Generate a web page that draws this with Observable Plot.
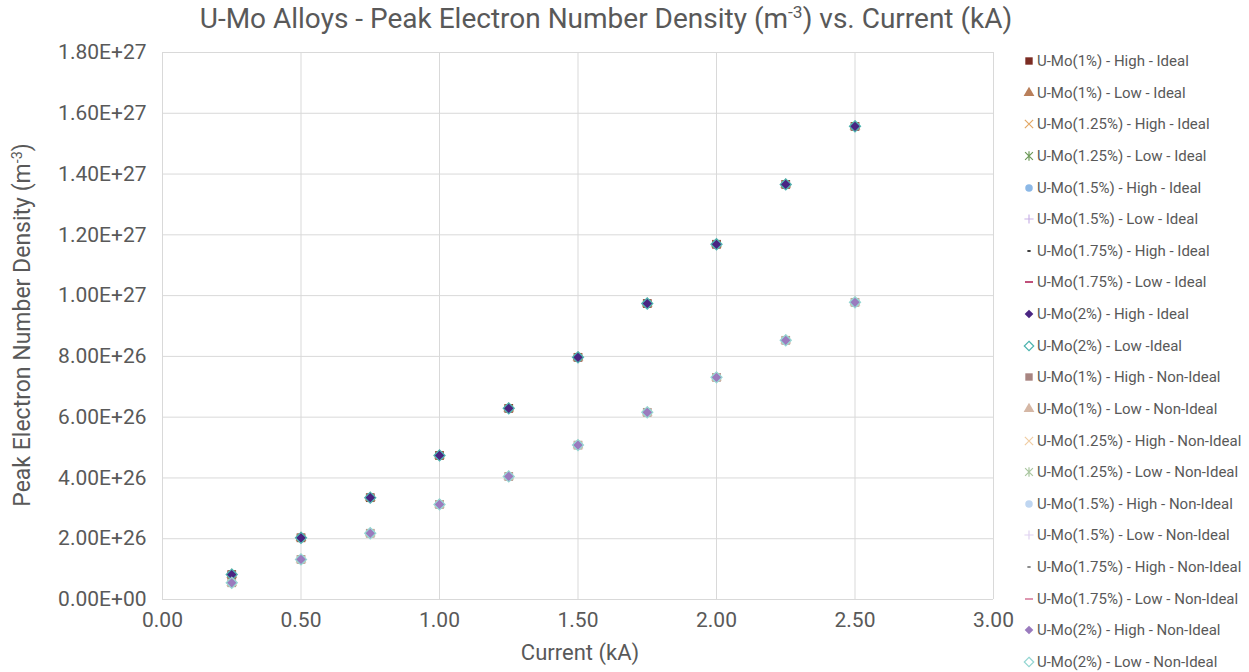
<!DOCTYPE html>
<html><head><meta charset="utf-8">
<script src="https://cdn.jsdelivr.net/npm/d3@7"></script>
<script src="https://cdn.jsdelivr.net/npm/@observablehq/plot@0.6"></script>
<style>
body{margin:0;background:#fff;}
#chart{position:relative;width:1249px;height:672px;font-family:"Roboto",sans-serif;color:#595959;overflow:hidden;}
#chart svg.plot{position:absolute;left:0;top:0;}
#title{position:absolute;top:2px;left:0;width:1212px;text-align:center;font-size:28px;white-space:nowrap;}
#title sup, #ylab sup{font-size:0.62em;vertical-align:0.55em;line-height:0;}
#xlab{position:absolute;top:640px;left:0;width:1160px;text-align:center;font-size:22px;}
#ylab{position:absolute;left:22px;top:325px;transform:translate(-50%,-50%) rotate(-90deg);font-size:23px;white-space:nowrap;}
.leg{position:absolute;left:1022px;height:18px;display:flex;align-items:center;font-size:15px;white-space:nowrap;color:#595959;}
.leg svg{width:14px;height:14px;margin-right:1px;}
</style></head><body><div id="chart"></div><script>
// ---- data ----
const currentKA = [0.25, 0.5, 0.75, 1.0, 1.25, 1.5, 1.75, 2.0, 2.25, 2.5];
const idealDensity = [0.82e26, 2.03e26, 3.35e26, 4.74e26, 6.29e26, 7.97e26, 9.74e26, 1.169e27, 1.366e27, 1.557e27];
const nonIdealDensity = [0.55e26, 1.32e26, 2.18e26, 3.13e26, 4.05e26, 5.08e26, 6.16e26, 7.31e26, 8.53e26, 9.78e26];
const seriesNames = [
  "U-Mo(1%) - High - Ideal", "U-Mo(1%) - Low - Ideal",
  "U-Mo(1.25%) - High - Ideal", "U-Mo(1.25%) - Low - Ideal",
  "U-Mo(1.5%) - High - Ideal", "U-Mo(1.5%) - Low - Ideal",
  "U-Mo(1.75%) - High - Ideal", "U-Mo(1.75%) - Low - Ideal",
  "U-Mo(2%) - High - Ideal", "U-Mo(2%) - Low -Ideal",
  "U-Mo(1%) - High - Non-Ideal", "U-Mo(1%) - Low - Non-Ideal",
  "U-Mo(1.25%) - High - Non-Ideal", "U-Mo(1.25%) - Low - Non-Ideal",
  "U-Mo(1.5%) - High - Non-Ideal", "U-Mo(1.5%) - Low - Non-Ideal",
  "U-Mo(1.75%) - High - Non-Ideal", "U-Mo(1.75%) - Low - Non-Ideal",
  "U-Mo(2%) - High - Non-Ideal", "U-Mo(2%) - Low - Non-Ideal"
];
const xTicks = [0, 0.5, 1.0, 1.5, 2.0, 2.5, 3.0];
const yTicks = [0, 2e26, 4e26, 6e26, 8e26, 1e27, 1.2e27, 1.4e27, 1.6e27, 1.8e27];

// ---- styles ----
const shortDash = {draw(ctx, size){ const r = Math.sqrt(size/Math.PI); ctx.moveTo(-r*0.45,0); ctx.lineTo(r*0.45,0); }};
const longDash = {draw(ctx, size){ const r = Math.sqrt(size/Math.PI); ctx.moveTo(-r*1.0,0); ctx.lineTo(r*1.0,0); }};
const xCross = {draw(ctx, size){ const r = Math.sqrt(size/Math.PI); ctx.moveTo(-r,-r); ctx.lineTo(r,r); ctx.moveTo(-r,r); ctx.lineTo(r,-r); }};
const starCross = {draw(ctx, size){ const r = Math.sqrt(size/Math.PI); ctx.moveTo(-r,-r); ctx.lineTo(r,r); ctx.moveTo(-r,r); ctx.lineTo(r,-r); ctx.moveTo(0,-r*1.2); ctx.lineTo(0,r*1.2); }};
const plusCross = {draw(ctx, size){ const r = Math.sqrt(size/Math.PI); ctx.moveTo(-r,0); ctx.lineTo(r,0); ctx.moveTo(0,-r); ctx.lineTo(0,r); }};
const markerSymbols = [d3.symbolSquare, d3.symbolTriangle, xCross, starCross, d3.symbolCircle, plusCross, shortDash, longDash, d3.symbolDiamond2, d3.symbolDiamond2];
const markerFilled = [true, true, false, false, true, false, false, false, true, false];
const markerR = [4.9, 4.0, 3.6, 3.4, 4.4, 4.0, 4.0, 4.0, 4.6, 5.0];
const legendScale = [0.85, 1.0, 1.15, 1.15, 0.85, 1.15, 0.9, 1.0, 0.85, 0.85];
const idealColors = ["#7B2C23", "#B97F5A", "#E3A865", "#6E9A5A", "#8CB8E6", "#C9B2E6", "#3F3F3F", "#C0507A", "#4A2582", "#4CB3AE"];
const nonIdealColors = ["#A88581", "#D5B7A5", "#F0CDA3", "#AAC7A0", "#BFD6F1", "#E0D2F1", "#8C8C8C", "#DE97B0", "#9A7BBE", "#94D6D2"];

function sci(v){
  if (v === 0) return "0.00E+00";
  const [m, e] = v.toExponential(2).split("e");
  return m + "E" + e[0] + e.slice(1).padStart(2, "0");
}

const rows = seriesNames.flatMap((name, i) => {
  const vals = i < 10 ? idealDensity : nonIdealDensity;
  return currentKA.map((x, j) => ({series: name, idx: i, x, y: vals[j]}));
});

const dotMarks = seriesNames.map((name, i) => {
  const k = i % 10;
  const color = i < 10 ? idealColors[k] : nonIdealColors[k];
  const filled = markerFilled[k];
  return Plot.dot(rows.filter(d => d.idx === i), {
    x: "x", y: "y", symbol: markerSymbols[k], r: markerR[k],
    fill: filled ? color : "none",
    stroke: filled ? "none" : color,
    strokeWidth: (k === 6 || k === 7) ? 2 : 1.2
  });
});

const chart = Plot.plot({
  width: 1249, height: 672,
  marginLeft: 162, marginRight: 256, marginTop: 52, marginBottom: 73,
  style: {fontFamily: '"Roboto",sans-serif', fontSize: "21px", color: "#595959", background: "transparent"},
  x: {domain: [0, 3], ticks: xTicks, tickFormat: d3.format(".2f"), tickSize: 0, tickPadding: 13, label: null},
  y: {domain: [0, 1.8e27], ticks: yTicks, tickFormat: sci, tickSize: 0, tickPadding: 16, label: null},
  marks: [
    Plot.ruleX(xTicks, {stroke: "#D9D9D9", strokeWidth: 1}),
    Plot.ruleY(yTicks, {stroke: "#D9D9D9", strokeWidth: 1}),
    ...dotMarks
  ]
});
chart.classList.add("plot");
const root = document.getElementById("chart");
root.appendChild(chart);

const title = document.createElement("div");
title.id = "title";
title.innerHTML = "U-Mo Alloys - Peak Electron Number Density (m<sup>-3</sup>) vs. Current (kA)";
root.appendChild(title);
const xlab = document.createElement("div");
xlab.id = "xlab"; xlab.textContent = "Current (kA)";
root.appendChild(xlab);
const ylab = document.createElement("div");
ylab.id = "ylab"; ylab.innerHTML = "Peak Electron Number Density (m<sup>-3</sup>)";
root.appendChild(ylab);

seriesNames.forEach((name, i) => {
  const k = i % 10;
  const color = i < 10 ? idealColors[k] : nonIdealColors[k];
  const filled = markerFilled[k];
  const item = document.createElement("div");
  item.className = "leg";
  item.style.top = (61 + i * 31.63 - 9) + "px";
  const r = markerR[k] * legendScale[k];
  const path = d3.symbol(markerSymbols[k], r * r * Math.PI)();
  item.innerHTML = `<svg viewBox="-7 -7 14 14"><path d="${path}" fill="${filled ? color : "none"}" stroke="${filled ? "none" : color}" stroke-width="${(k===6||k===7)?2:1.2}"/></svg><span></span>`;
  item.querySelector("span").textContent = name;
  root.appendChild(item);
});
</script></body></html>
